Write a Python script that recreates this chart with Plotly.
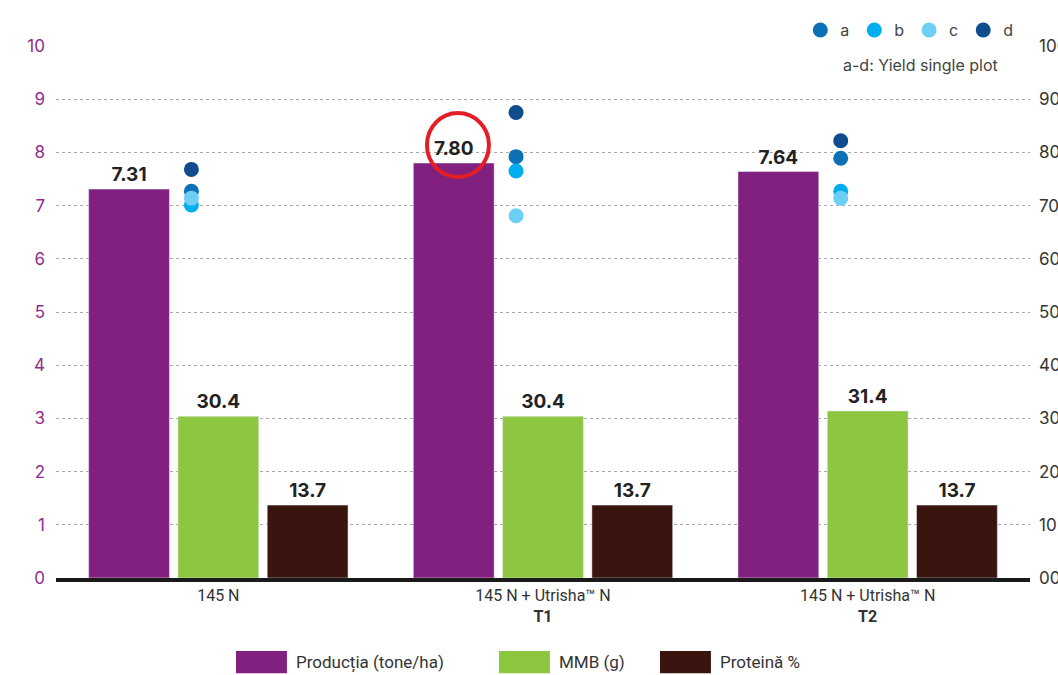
import plotly.graph_objects as go

# categories (x axis)
categories = ["145 N", "145 N + Utrisha\u2122 N<br><b>T1</b>", "145 N + Utrisha\u2122 N<br><b>T2</b>"]

# bar series
productia = [7.31, 7.80, 7.64]     # left axis, tone/ha
mmb = [30.4, 30.4, 31.4]           # right axis, g
proteina = [13.7, 13.7, 13.7]      # right axis, %

series_names = ["Producția (tone/ha)", "MMB (g)", "Proteină %"]
series_colors = ["#82207f", "#8dc63f", "#3a140e"]

# single plot yields (left axis)
plot_a = [7.27, 7.92, 7.89]
plot_b = [7.01, 7.65, 7.27]
plot_c = [7.14, 6.81, 7.14]
plot_d = [7.68, 8.75, 8.22]
dot_names = ["a", "b", "c", "d"]
dot_colors = ["#0b70b6", "#00aeef", "#6dcff6", "#0e4c8e"]

left_ticks = list(range(0, 11))
right_ticks = list(range(0, 101, 10))
right_ticktext = ["00", "10", "20", "30", "40", "50", "60", "70", "80", "90", "100"]

xs = list(range(len(categories)))
dot_x = [x - 0.083 for x in xs]

fig = go.Figure()

fig.add_trace(go.Bar(x=xs, y=productia, name=series_names[0], marker_color=series_colors[0],
                     offsetgroup="1", yaxis="y", text=[f"{v:.2f}" for v in productia],
                     textposition="outside", showlegend=False))
fig.add_trace(go.Bar(x=xs, y=mmb, name=series_names[1], marker_color=series_colors[1],
                     offsetgroup="2", yaxis="y2", text=[f"{v:.1f}" for v in mmb],
                     textposition="outside", showlegend=False))
fig.add_trace(go.Bar(x=xs, y=proteina, name=series_names[2], marker_color=series_colors[2],
                     offsetgroup="3", yaxis="y2", text=[f"{v:.1f}" for v in proteina],
                     textposition="outside", showlegend=False))
fig.update_traces(textfont=dict(family="Inter", size=19, color="#222", weight="bold"),
                  cliponaxis=False, selector=dict(type="bar"))

for name, vals, col in zip(dot_names, [plot_a, plot_b, plot_c, plot_d], dot_colors):
    fig.add_trace(go.Scatter(x=dot_x, y=vals, mode="markers", name=name, legend="legend2",
                             marker=dict(size=15, color=col), yaxis="y"))

# red highlight around the best yield label
fig.add_shape(type="circle", xref="x", yref="y", xsizemode="pixel", ysizemode="pixel",
              xanchor=1 - 0.262, yanchor=8.14, x0=-31, x1=31, y0=-32, y1=32,
              line=dict(color="#e31e24", width=4))

# bottom legend drawn as wide swatches
sw_x = [0.1848, 0.4548, 0.6201]
for name, col, x0 in zip(series_names, series_colors, sw_x):
    fig.add_shape(type="rect", xref="paper", yref="paper", x0=x0, x1=x0 + 0.0523,
                  y0=-0.179, y1=-0.137, fillcolor=col, line_width=0)
    fig.add_annotation(xref="paper", yref="paper", x=x0 + 0.06, y=-0.158, text=name,
                       showarrow=False, xanchor="left", yanchor="middle",
                       font=dict(family="Roboto", size=17, color="#333"))

fig.add_annotation(xref="paper", yref="paper", x=0.969, y=0.964, text="a-d: Yield single plot",
                   showarrow=False, xanchor="right", yanchor="middle",
                   font=dict(family="Inter", size=16, color="#444"))

fig.update_layout(
    width=1058, height=675,
    margin=dict(l=56, r=28, t=46, b=97, autoexpand=False),
    paper_bgcolor="white", plot_bgcolor="white",
    barmode="group", bargap=0.175, bargroupgap=0.095,
    xaxis=dict(tickvals=xs, ticktext=categories, range=[-0.5, 2.5], showgrid=False,
               showline=True, linecolor="#1a1a1a", linewidth=4, ticks="", automargin=False,
               tickfont=dict(family="Roboto", size=16, color="#333")),
    yaxis=dict(range=[0, 10], tickvals=left_ticks, showgrid=True, gridcolor="#aaa",
               griddash="dot", gridwidth=1, zeroline=False, ticklabelstandoff=10,
               automargin=False, tickfont=dict(family="Inter", size=17, color="#8e2c91")),
    yaxis2=dict(range=[0, 100], tickvals=right_ticks, ticktext=right_ticktext, overlaying="y",
                side="right", showgrid=False, zeroline=False, ticklabelstandoff=8,
                automargin=False, tickfont=dict(family="Inter", size=17, color="#333")),
    legend2=dict(orientation="h", x=0.988, xanchor="right", y=1.03, yanchor="middle",
                 bgcolor="rgba(0,0,0,0)", itemsizing="trace",
                 font=dict(family="Inter", size=16, color="#444")),
)

fig.write_html("out.html", config={"displayModeBar": False},
               post_script="document.body.style.margin='0';document.body.style.overflow='hidden';")
